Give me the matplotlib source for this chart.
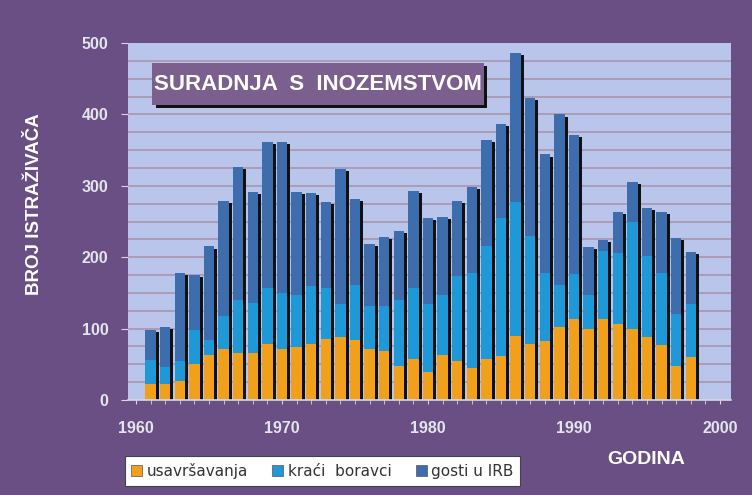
import matplotlib
matplotlib.use("Agg")
import matplotlib.pyplot as plt
from matplotlib.patches import Rectangle, Patch
import numpy as np

years = [1961, 1962, 1963, 1964, 1965, 1966, 1967, 1968, 1969, 1970,
         1971, 1972, 1973, 1974, 1975, 1976, 1977, 1978, 1979, 1980,
         1981, 1982, 1983, 1984, 1985, 1986, 1987, 1988, 1989, 1990,
         1991, 1992, 1993, 1994, 1995, 1996, 1997, 1998]
usavrsavanja = [22, 22, 26, 51, 63, 72, 66, 66, 79, 72, 74, 79, 85, 88, 84, 71, 68, 48, 57, 39,
                63, 54, 45, 58, 62, 89, 79, 82, 102, 114, 99, 114, 107, 99, 88, 77, 48, 60]
kraci_boravci = [34, 24, 28, 47, 21, 45, 74, 70, 78, 78, 73, 80, 72, 47, 77, 60, 64, 92, 100, 96,
                 84, 120, 133, 158, 193, 188, 150, 96, 59, 63, 48, 95, 99, 150, 113, 101, 73, 75]
gosti_u_irb = [42, 56, 124, 77, 131, 162, 186, 156, 204, 211, 144, 131, 121, 189, 121, 88, 96, 97, 136, 120,
               110, 105, 121, 148, 132, 209, 194, 166, 239, 194, 67, 15, 58, 56, 68, 86, 106, 72]
series_names = ["usavršavanja", "kraći  boravci", "gosti u IRB"]
y_ticks = [0, 100, 200, 300, 400, 500]
x_ticks = [1960, 1970, 1980, 1990, 2000]
title_text = "SURADNJA  S  INOZEMSTVOM"
y_label = "BROJ ISTRAŽIVAČA"
x_label = "GODINA"

C_BG = "#694f84"
C_PLOT = "#b9c5ea"
C_OR = "#f0a01a"
C_LB = "#1e98d6"
C_DB = "#3e6dae"
C_TXT = "#e4e4ec"

plt.rcParams['font.family'] = ['Liberation Sans', 'DejaVu Sans']

fig = plt.figure(figsize=(7.52, 4.95), dpi=100, facecolor=C_BG)
ax = fig.add_axes([128/752, 95/495, 603/752, 357/495])
ax.set_facecolor(C_PLOT)

x = np.array(years, dtype=float)
u = np.array(usavrsavanja, dtype=float)
k = np.array(kraci_boravci, dtype=float)
g = np.array(gosti_u_irb, dtype=float)
tot = u + k + g
w = 0.71

# grid
for yv in np.arange(25, 500, 25):
    ax.axhline(yv, color="#a796ae", lw=1.2, zorder=1)

# shadows
ax.bar(x + 0.2, tot - 3, width=w, bottom=0, color="#111111", zorder=2, linewidth=0)
ax.bar(x, u, width=w, color=C_OR, zorder=3, linewidth=0)
ax.bar(x, k, width=w, bottom=u, color=C_LB, zorder=3, linewidth=0)
ax.bar(x, g, width=w, bottom=u + k, color=C_DB, zorder=3, linewidth=0)

ax.set_xlim(1959.45, 2000.75)
ax.set_ylim(0, 500)

for s in ["top", "right", "left"]:
    ax.spines[s].set_visible(False)
ax.spines["bottom"].set_color("#d8d8e4")
ax.spines["bottom"].set_linewidth(1.2)
ax.spines["bottom"].set_zorder(5)

ax.set_xticks(x_ticks)
ax.set_xticks(np.arange(1960, 2001, 1), minor=True)
ax.set_yticks(y_ticks)
ax.tick_params(axis="x", which="both", direction="out", length=3, color="#d8d8e4",
               labelcolor=C_TXT, labelsize=11.5, pad=12)
ax.tick_params(axis="y", which="both", direction="out", length=5, color="#d8d8e4",
               labelcolor=C_TXT, labelsize=11.5, pad=9)
for lab in ax.get_xticklabels() + ax.get_yticklabels():
    lab.set_fontweight("bold")

# title box
x0, x1 = 1961.1, 1983.8
y0, y1 = 413, 472
ax.add_patch(Rectangle((x0 + 0.25, y0 - 4), x1 - x0, y1 - y0, facecolor="#111111",
                       edgecolor="none", zorder=6))
ax.add_patch(Rectangle((x0, y0), x1 - x0, y1 - y0, facecolor="#7b5f8f",
                       edgecolor="none", zorder=7))
ax.text((x0 + x1) / 2, (y0 + y1) / 2, title_text, color="white", fontsize=16,
        fontweight="bold", ha="center", va="center", zorder=8)

fig.text(35/752, 1 - 204/495, y_label, rotation=90, color="white", fontsize=13.5,
         fontweight="bold", ha="center", va="center")
fig.text(646/752, 1 - 460/495, x_label, color="white", fontsize=14,
         fontweight="bold", ha="center", va="center")

handles = [Patch(facecolor=C_OR, edgecolor="#555555", linewidth=0.5),
           Patch(facecolor=C_LB, edgecolor="#555555", linewidth=0.5),
           Patch(facecolor=C_DB, edgecolor="#555555", linewidth=0.5)]
leg = fig.legend(handles, series_names, loc="center", ncol=3,
                 bbox_to_anchor=(322.5/752, 1 - 471/495),
                 prop={"family": "DejaVu Sans", "size": 11},
                 handlelength=0.7, handleheight=0.7, handletextpad=0.3,
                 columnspacing=1.6, borderpad=0.45, fancybox=False,
                 frameon=True, framealpha=1.0)
leg.get_frame().set_facecolor("white")
leg.get_frame().set_edgecolor("#444444")
leg.get_frame().set_linewidth(0.8)
for t in leg.get_texts():
    t.set_color("#333333")

fig.savefig("out.png", dpi=100, facecolor=C_BG)
